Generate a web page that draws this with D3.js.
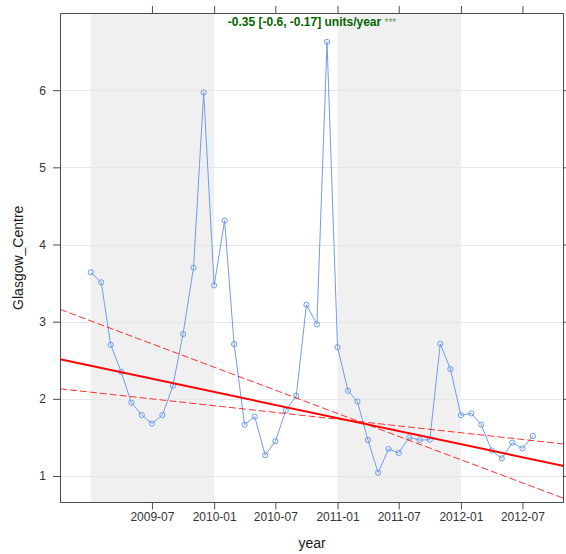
<!DOCTYPE html>
<html>
<head>
<meta charset="utf-8">
<script src="https://cdn.jsdelivr.net/npm/d3@7"></script>
<style>
  html, body { margin: 0; padding: 0; background: #fff; }
  svg { display: block; font-family: "Liberation Sans", Arial, sans-serif; }
</style>
</head>
<body>
<svg id="chart" width="566" height="554"></svg>
<script>
// ---- data ----
const months = [
  "2009-01","2009-02","2009-03","2009-04","2009-05","2009-06","2009-07","2009-08","2009-09","2009-10","2009-11","2009-12",
  "2010-01","2010-02","2010-03","2010-04","2010-05","2010-06","2010-07","2010-08","2010-09","2010-10","2010-11","2010-12",
  "2011-01","2011-02","2011-03","2011-04","2011-05","2011-06","2011-07","2011-08","2011-09","2011-10","2011-11","2011-12",
  "2012-01","2012-02","2012-03","2012-04","2012-05","2012-06","2012-07","2012-08"
];
const values = [
  3.64, 3.51, 2.70, 2.35, 1.95, 1.79, 1.68, 1.79, 2.17, 2.84, 3.70, 5.97,
  3.47, 4.31, 2.71, 1.665, 1.77, 1.27, 1.45, 1.85, 2.04, 3.22, 2.965, 6.625,
  2.67, 2.105, 1.965, 1.466, 1.043, 1.35, 1.30, 1.50, 1.466, 1.47, 2.714, 2.386,
  1.788, 1.812, 1.665, 1.332, 1.229, 1.432, 1.358, 1.518
];
const xLimits = ["2008-10-02", "2012-11-01"];
const yLimits = [0.657, 7.0];
const xTickLabels = ["2009-07","2010-01","2010-07","2011-01","2011-07","2012-01","2012-07"];
const yTicks = [1, 2, 3, 4, 5, 6];
const shadedYears = [["2009-01-01","2010-01-01"], ["2011-01-01","2012-01-01"]];
// trend lines: values at the two x limits
const trendMain  = [2.512, 1.13];
const trendUpper = [3.16, 0.71];
const trendLower = [2.13, 1.415];
const trendLabel = "-0.35 [-0.6, -0.17] units/year";
const trendStars = "***";
const xTitle = "year";
const yTitle = "Glasgow_Centre";

// ---- layout ----
const svg = d3.select("#chart");
const pL = 60, pR = 564, pT = 13, pB = 502.5;
const parseDay = d3.timeParse("%Y-%m-%d");
const parseMonth = d3.timeParse("%Y-%m");

const x = d3.scaleTime().domain(xLimits.map(parseDay)).range([pL, pR]);
const y = d3.scaleLinear().domain(yLimits).range([pB, pT]);

const data = months.map((m, i) => ({ date: parseMonth(m), value: values[i] }));

// clip
svg.append("defs").append("clipPath").attr("id", "clip")
  .append("rect").attr("x", pL).attr("y", pT).attr("width", pR - pL).attr("height", pB - pT);

const panel = svg.append("g").attr("clip-path", "url(#clip)");

// shaded years
panel.selectAll("rect.shade").data(shadedYears).enter().append("rect")
  .attr("class", "shade")
  .attr("x", d => x(parseDay(d[0])))
  .attr("width", d => x(parseDay(d[1])) - x(parseDay(d[0])))
  .attr("y", pT).attr("height", pB - pT)
  .attr("fill", "#f0f0f0");

// horizontal grid
panel.selectAll("line.grid").data(yTicks).enter().append("line")
  .attr("x1", pL).attr("x2", pR)
  .attr("y1", d => Math.round(y(d)) + 0.5).attr("y2", d => Math.round(y(d)) + 0.5)
  .attr("stroke", "#e6e6e6").attr("stroke-width", 1);

// data line
panel.append("path").datum(data)
  .attr("d", d3.line().x(d => x(d.date)).y(d => y(d.value)))
  .attr("fill", "none").attr("stroke", "#6f9bf0").attr("stroke-width", 1);

panel.selectAll("circle.pt").data(data).enter().append("circle")
  .attr("cx", d => x(d.date)).attr("cy", d => y(d.value)).attr("r", 2.6)
  .attr("fill", "none").attr("stroke", "#6f9bf0").attr("stroke-width", 1);

// trend lines
const xl = xLimits.map(parseDay);
function trend(vals, width, dash, opacity) {
  panel.append("line")
    .attr("x1", x(xl[0])).attr("y1", y(vals[0]))
    .attr("x2", x(xl[1])).attr("y2", y(vals[1]))
    .attr("stroke", "red").attr("stroke-width", width)
    .attr("stroke-dasharray", dash).attr("opacity", opacity);
}
trend(trendUpper, 1, "7,3", 0.8);
trend(trendLower, 1, "7,3", 0.8);
trend(trendMain, 2, null, 1);

// frame
const frameColor = "#4d4d4d";
svg.append("rect").attr("x", pL + 0.5).attr("y", pT + 0.5)
  .attr("width", pR - pL - 1).attr("height", pB - pT - 0.5)
  .attr("fill", "none").attr("stroke", frameColor).attr("stroke-width", 1);

// axes
const xTickDates = xTickLabels.map(parseMonth);
const xAxisB = d3.axisBottom(x).tickValues(xTickDates).tickFormat(d3.timeFormat("%Y-%m")).tickSizeInner(7).tickSizeOuter(0).tickPadding(3);
const xAxisT = d3.axisTop(x).tickValues(xTickDates).tickFormat("").tickSizeInner(7).tickSizeOuter(0);
const yAxisL = d3.axisLeft(y).tickValues(yTicks).tickFormat(d3.format("d")).tickSizeInner(7).tickSizeOuter(0).tickPadding(7);
const yAxisR = d3.axisRight(y).tickValues(yTicks).tickFormat("").tickSizeInner(7).tickSizeOuter(0);

function styleAxis(g) {
  g.select(".domain").remove();
  g.selectAll(".tick line").attr("stroke", frameColor);
  g.selectAll(".tick text").attr("fill", "#333").attr("font-size", 12)
    .attr("font-family", "'Liberation Sans', Arial, sans-serif");
}
svg.append("g").attr("transform", `translate(0,${pB})`).call(xAxisB).call(styleAxis);
svg.append("g").attr("transform", `translate(0,${pT})`).call(xAxisT).call(styleAxis);
svg.append("g").attr("transform", `translate(${pL},0)`).call(yAxisL).call(styleAxis);
svg.append("g").attr("transform", `translate(${pR},0)`).call(yAxisR).call(styleAxis);

// titles
svg.append("text").attr("x", (pL + pR) / 2).attr("y", 548)
  .attr("text-anchor", "middle").attr("font-size", 14).attr("fill", "#1a1a1a")
  .text(xTitle);
svg.append("text").attr("transform", `translate(23,${(pT + pB) / 2}) rotate(-90)`)
  .attr("text-anchor", "middle").attr("font-size", 14).attr("fill", "#1a1a1a")
  .text(yTitle);

// trend label
const lab = svg.append("text").attr("x", (pL + pR) / 2).attr("y", 26)
  .attr("text-anchor", "middle").attr("fill", "#006400");
lab.append("tspan").attr("font-size", 12).attr("font-weight", "bold").text(trendLabel + " ");
lab.append("tspan").attr("font-size", 10).attr("fill", "#5f9a5f").text(trendStars);
</script>
</body>
</html>
